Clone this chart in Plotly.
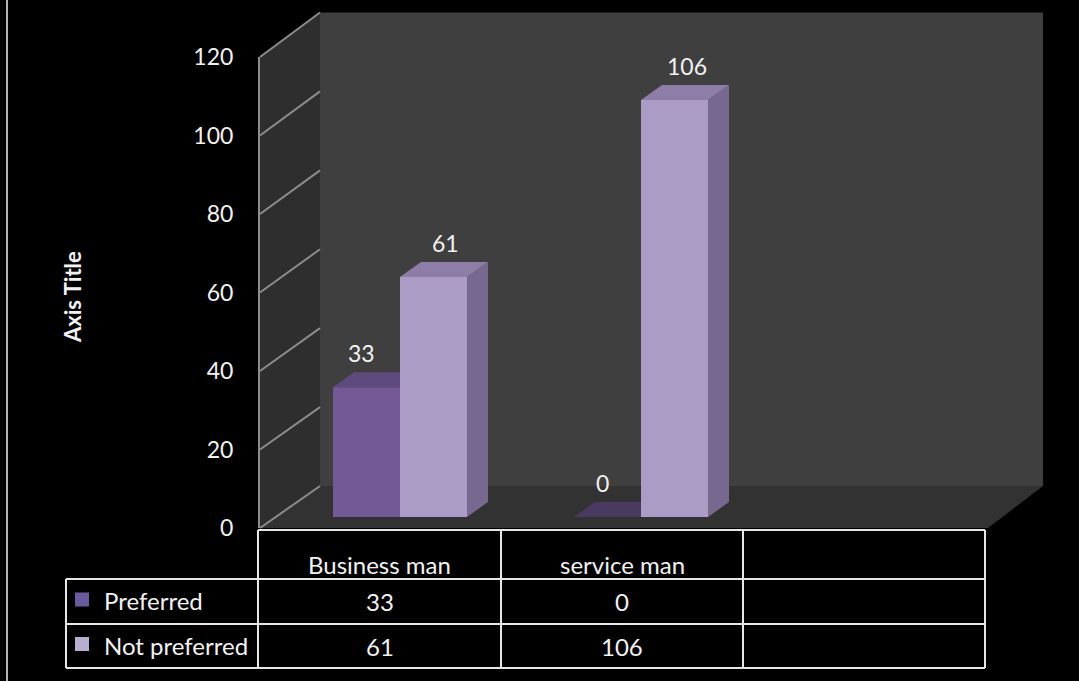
import plotly.graph_objects as go

# ---- data ----
categories = ["Business man", "service man"]
series_names = ["Preferred", "Not preferred"]
preferred = [33, 0]
not_preferred = [61, 106]
y_ticks = [0, 20, 40, 60, 80, 100, 120]
axis_title = "Axis Title"

W, H = 1079, 681
FONT = "Lato"
TXT = "#f2f2f2"
GRID = "#8c8c8c"

front_cols = ["#745997", "#ab9cc5"]
side_cols = ["#5a4778", "#77688f"]
top_cols = ["#5e4a7c", "#8e7ea7"]
marker_cols = ["#6c5a9e", "#b6adcf"]


def px(x):
    return x / W


def py(y):
    return 1 - y / H


# 3-D frame geometry (pixels)
BACK_L, BACK_R = 320, 1043          # back wall left/right
BACK_Y0, BACK_Y1 = 486, 12.5        # back wall y of 0 and 120
FRONT_X = 260                       # front-left edge
FRONT_Y0, FRONT_Y1 = 528, 57        # front edge y of 0 and 120
FLOOR_R = 988
YMAX = 120

# column plane: value 0 at y=517, 3.934 px per unit; category slot 241 px
BAR_Y0 = 517
BAR_SCALE = 3.934
SLOT = 241
CAT0_X = 400
DEPTH_PX = (21, 15)
dx = DEPTH_PX[0] / SLOT
dy = DEPTH_PX[1] / BAR_SCALE
bargap = 0.444
bar_w = (1 - bargap) / 2


def back_y(v):
    return BACK_Y0 + (BACK_Y1 - BACK_Y0) * v / YMAX


def front_y(v):
    return FRONT_Y0 + (FRONT_Y1 - FRONT_Y0) * v / YMAX


fig = go.Figure()

xs = list(range(len(categories)))
for s, (name, vals) in enumerate(zip(series_names, [preferred, not_preferred])):
    fig.add_trace(go.Bar(
        x=xs, y=vals, name=name, xaxis="x2", yaxis="y2",
        marker=dict(color=front_cols[s], line=dict(width=0)),
        hoverinfo="skip",
    ))

# empty trace so the front-edge value axis gets its own subplot
fig.add_trace(go.Scatter(x=[], y=[], xaxis="x3", yaxis="y3", mode="markers",
                         hoverinfo="skip", showlegend=False))

shapes = []

# walls and floor
shapes.append(dict(type="path", xref="paper", yref="paper", layer="below",
                   path=f"M {px(BACK_L)} {py(BACK_Y0)} L {px(BACK_R)} {py(BACK_Y0)} "
                        f"L {px(BACK_R)} {py(BACK_Y1)} L {px(BACK_L)} {py(BACK_Y1)} Z",
                   fillcolor="#3f3f3f", line=dict(width=0)))
shapes.append(dict(type="path", xref="paper", yref="paper", layer="below",
                   path=f"M {px(FRONT_X)} {py(FRONT_Y0)} L {px(BACK_L)} {py(BACK_Y0)} "
                        f"L {px(BACK_L)} {py(BACK_Y1)} L {px(FRONT_X)} {py(FRONT_Y1)} Z",
                   fillcolor="#2e2e2e", line=dict(width=0)))
shapes.append(dict(type="path", xref="paper", yref="paper", layer="below",
                   path=f"M {px(FRONT_X)} {py(FRONT_Y0)} L {px(FLOOR_R)} {py(FRONT_Y0)} "
                        f"L {px(BACK_R)} {py(BACK_Y0)} L {px(BACK_L)} {py(BACK_Y0)} Z",
                   fillcolor="#323232", line=dict(width=0)))

# side-wall grid lines
for v in y_ticks:
    shapes.append(dict(type="line", xref="paper", yref="paper", layer="below",
                       x0=px(FRONT_X), y0=py(front_y(v)), x1=px(BACK_L), y1=py(back_y(v)),
                       line=dict(color=GRID, width=2)))

# 3-D faces of the columns (side and top), built from the values
for s, vals in enumerate([preferred, not_preferred]):
    for i, v in enumerate(vals):
        x0 = i - bar_w if s == 0 else i
        x1 = x0 + bar_w
        side = (f"M {x1} 0 L {x1 + dx} {dy} L {x1 + dx} {v + dy} L {x1} {v} Z")
        top = (f"M {x0} {v} L {x1} {v} L {x1 + dx} {v + dy} L {x0 + dx} {v + dy} Z")
        shapes.append(dict(type="path", xref="x2", yref="y2", layer="below",
                           path=side, fillcolor=side_cols[s], line=dict(width=0)))
        shapes.append(dict(type="path", xref="x2", yref="y2", layer="below",
                           path=top, fillcolor=top_cols[s] if v > 0 else "#4a3a62",
                           line=dict(width=0)))

# data table
T_COLS = [258, 501, 743, 985]
T_LEG = 66
T_ROWS = [530, 579, 624, 668]
TL = dict(color="#e6e6e6", width=2)


def hline(x0, x1, y):
    shapes.append(dict(type="line", xref="paper", yref="paper", layer="above",
                       x0=px(x0), x1=px(x1), y0=py(y), y1=py(y), line=TL))


def vline(x, y0, y1):
    shapes.append(dict(type="line", xref="paper", yref="paper", layer="above",
                       x0=px(x), x1=px(x), y0=py(y0), y1=py(y1), line=TL))


hline(T_COLS[0], T_COLS[-1], T_ROWS[0])
for y in T_ROWS[1:]:
    hline(T_LEG, T_COLS[-1], y)
vline(T_LEG, T_ROWS[1], T_ROWS[-1])
for x in T_COLS:
    vline(x, T_ROWS[0], T_ROWS[-1])

# legend keys in the table
for s in range(len(series_names)):
    cy = (T_ROWS[s + 1] + T_ROWS[s + 2]) / 2 - 2
    shapes.append(dict(type="rect", xref="paper", yref="paper", layer="above",
                       x0=px(75), x1=px(89), y0=py(cy - 7), y1=py(cy + 7),
                       fillcolor=marker_cols[s], line=dict(width=0)))

# outer frame edge
shapes.append(dict(type="line", xref="paper", yref="paper", layer="above",
                   x0=px(7), x1=px(7), y0=0, y1=1, line=dict(color="#b4b4b4", width=2)))

annotations = []

# value labels above the columns
label_xshift = [-5, 12]
for s, vals in enumerate([preferred, not_preferred]):
    for i, v in enumerate(vals):
        cx = i - bar_w / 2 if s == 0 else i + bar_w / 2
        annotations.append(dict(x=cx, y=v, xref="x2", yref="y2", text=str(v),
                                showarrow=False, yshift=34, xshift=label_xshift[s],
                                xanchor="center", yanchor="middle",
                                font=dict(family=FONT, size=23, color=TXT)))

# table text
for j, cat in enumerate(categories):
    cx = (T_COLS[j] + T_COLS[j + 1]) / 2
    annotations.append(dict(x=px(cx), y=py(564), xref="paper", yref="paper", text=cat,
                            xanchor="center", yanchor="middle", showarrow=False,
                            font=dict(family=FONT, size=24, color=TXT)))
    for s, vals in enumerate([preferred, not_preferred]):
        cy = (T_ROWS[s + 1] + T_ROWS[s + 2]) / 2
        annotations.append(dict(x=px(cx), y=py(cy), xref="paper", yref="paper",
                                text=str(vals[j]), showarrow=False,
                                xanchor="center", yanchor="middle",
                                font=dict(family=FONT, size=24, color=TXT)))
for s, name in enumerate(series_names):
    cy = (T_ROWS[s + 1] + T_ROWS[s + 2]) / 2 - 1
    annotations.append(dict(x=px(102), y=py(cy), xref="paper", yref="paper", text=name,
                            xanchor="left", yanchor="middle", showarrow=False,
                            font=dict(family=FONT, size=24, color=TXT)))

# axis title
annotations.append(dict(x=px(72), y=py(297), xref="paper", yref="paper",
                        text=f"<b>{axis_title}</b>", textangle=-90, showarrow=False,
                        xanchor="center", yanchor="middle",
                        font=dict(family=FONT, size=22, color=TXT)))

fig.update_layout(
    width=W, height=H,
    margin=dict(l=0, r=0, t=0, b=0, autoexpand=False),
    paper_bgcolor="black", plot_bgcolor="rgba(0,0,0,0)",
    showlegend=False,
    barmode="group", bargap=bargap, bargroupgap=0,
    # back wall grid
    xaxis=dict(domain=[px(BACK_L), px(BACK_R)], range=[0, 1], visible=False,
               automargin=False),
    yaxis=dict(domain=[py(BACK_Y0), py(BACK_Y1)], range=[0, YMAX], tickvals=y_ticks,
               showgrid=True, gridcolor=GRID, gridwidth=2, zeroline=False,
               showline=False, showticklabels=False, ticks="", automargin=False),
    # column plane
    xaxis2=dict(domain=[px(CAT0_X - SLOT / 2), px(CAT0_X + SLOT * 2.5)],
                range=[-0.5, 2.5], visible=False, anchor="y2", automargin=False),
    yaxis2=dict(domain=[py(BAR_Y0), py(BAR_Y0 - YMAX * BAR_SCALE)], range=[0, YMAX],
                visible=False, anchor="x2", automargin=False),
    # value axis labels on the front edge
    xaxis3=dict(domain=[px(FRONT_X), px(BACK_L)], range=[0, 1], visible=False,
                anchor="y3", automargin=False),
    yaxis3=dict(domain=[py(FRONT_Y0), py(FRONT_Y1)], range=[0, YMAX], anchor="x3",
                side="left", tickmode="array", tickvals=y_ticks,
                ticktext=[str(t) for t in y_ticks], showticklabels=True,
                showgrid=False, zeroline=False,
                showline=True, linecolor=GRID, linewidth=2,
                ticks="outside", ticklen=20, tickcolor="rgba(0,0,0,0)",
                tickfont=dict(family=FONT, size=23, color=TXT), automargin=False),
    shapes=shapes,
    annotations=annotations,
)

fig.write_html("out.html")
